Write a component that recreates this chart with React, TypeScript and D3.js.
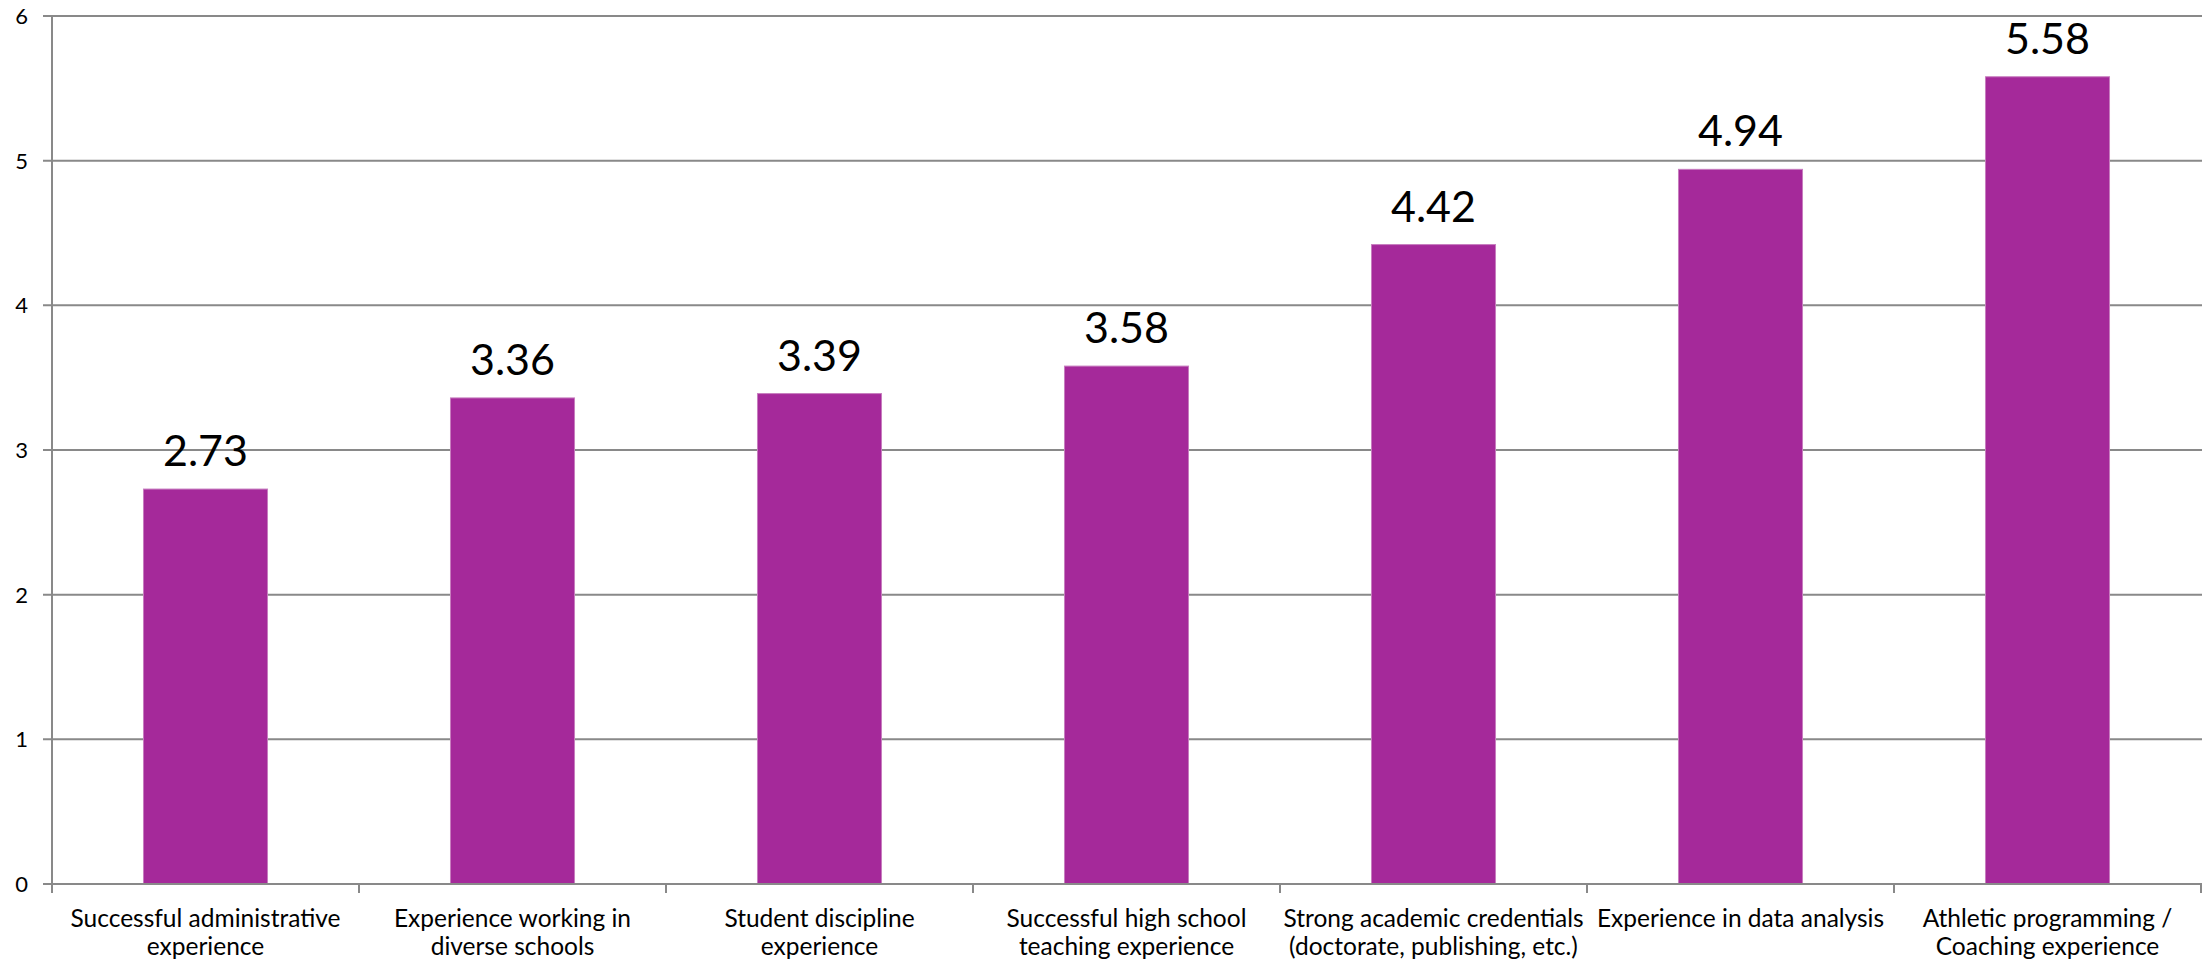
import React from "react";
import * as d3 from "d3";

const categories: string[][] = [
  ["Successful administrative", "experience"],
  ["Experience working in", "diverse schools"],
  ["Student discipline", "experience"],
  ["Successful high school", "teaching experience"],
  ["Strong academic credentials", "(doctorate, publishing, etc.)"],
  ["Experience in data analysis"],
  ["Athletic programming /", "Coaching experience"],
];
const values: number[] = [2.73, 3.36, 3.39, 3.58, 4.42, 4.94, 5.58];
const yTicks: number[] = [0, 1, 2, 3, 4, 5, 6];

const W = 2206;
const H = 964;
const margin = { left: 52, right: 5, top: 16, bottom: 80 };
const FONT = "Lato, 'Open Sans', sans-serif";
const AXIS = "#898989";
const BAR = "#A5299A";

export default function App() {
  const x = d3
    .scaleBand<number>()
    .domain(d3.range(values.length))
    .range([margin.left, W - margin.right])
    .paddingInner(0)
    .paddingOuter(0);
  const y = d3.scaleLinear().domain([0, 6]).range([H - margin.bottom, margin.top]);
  const step = x.bandwidth();
  const barW = step * 0.404;
  const y0 = y(0);

  return (
    <svg
      width={W}
      height={H}
      style={{ position: "absolute", left: 0, top: 0, background: "#fff" }}
    >
      {/* horizontal gridlines and y ticks */}
      {yTicks.map((t) => (
        <g key={t}>
          <line
            x1={margin.left - 9}
            x2={W - margin.right + 1}
            y1={y(t)}
            y2={y(t)}
            stroke={AXIS}
            strokeWidth={2}
          />
          <text
            x={28}
            y={y(t)}
            dy="0.36em"
            textAnchor="end"
            fontFamily={FONT}
            fontSize={22}
            fill="#000"
          >
            {t}
          </text>
        </g>
      ))}
      {/* y axis */}
      <line x1={margin.left} x2={margin.left} y1={margin.top} y2={y0 + 9} stroke={AXIS} strokeWidth={2} />
      {/* category tick marks */}
      {d3.range(values.length + 1).map((i) => {
        const xx = margin.left + i * step;
        return <line key={i} x1={xx} x2={xx} y1={y0} y2={y0 + 9} stroke={AXIS} strokeWidth={2} />;
      })}
      {/* bars */}
      {values.map((v, i) => {
        const cx = (x(i) as number) + step / 2;
        return (
          <g key={i}>
            <rect
              x={cx - barW / 2}
              y={y(v)}
              width={barW}
              height={y0 - y(v)}
              fill={BAR}
              stroke="#C77DBF"
              strokeWidth={1}
            />
            <text
              x={cx}
              y={y(v) - 23}
              textAnchor="middle"
              fontFamily={FONT}
              fontSize={43}
              fill="#000"
            >
              {v.toFixed(2)}
            </text>
          </g>
        );
      })}
      {/* x axis line on top of bar bases */}
      <line x1={margin.left - 9} x2={W - margin.right + 1} y1={y0} y2={y0} stroke={AXIS} strokeWidth={2} />
      {/* category labels */}
      {categories.map((lines, i) => {
        const cx = (x(i) as number) + step / 2;
        return (
          <text key={i} textAnchor="middle" fontFamily={FONT} fontSize={24.5} fill="#000">
            {lines.map((ln, j) => (
              <tspan key={j} x={cx} y={y0 + 43 + j * 28}>
                {ln}
              </tspan>
            ))}
          </text>
        );
      })}
    </svg>
  );
}
